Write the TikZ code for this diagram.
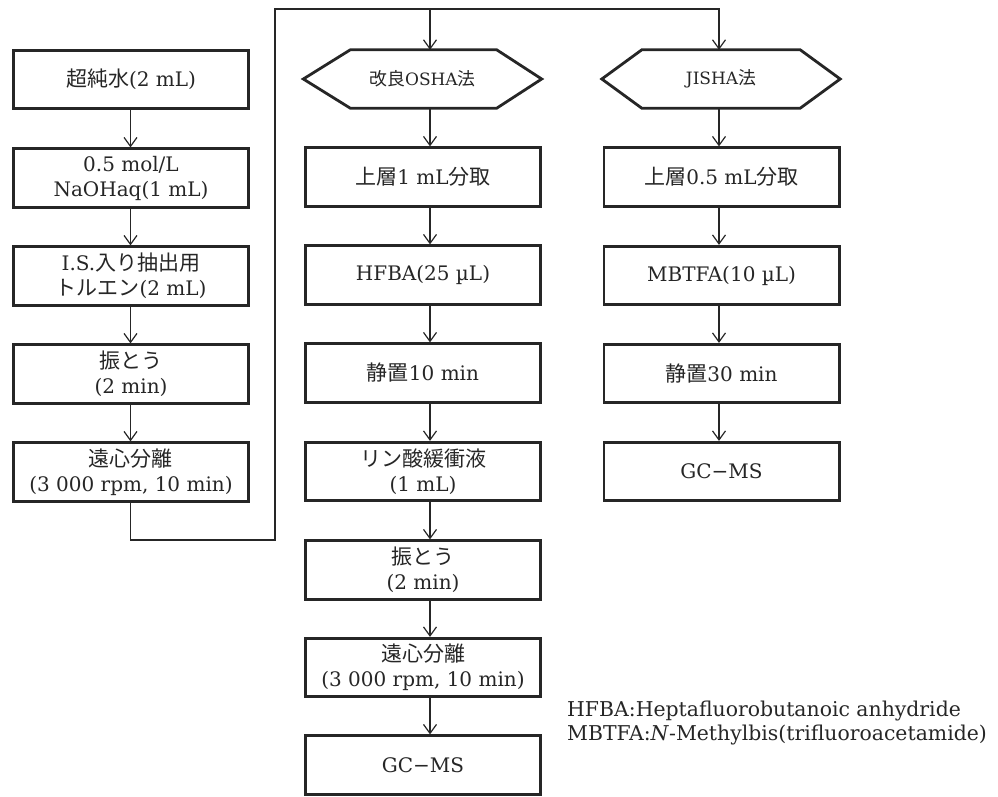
\documentclass[tikz,border=0pt]{standalone}
\usepackage{fontspec}
\setmainfont{DejaVu Serif}
\newfontfamily\jpfont[Scale=1.05]{Noto Sans CJK JP}
\newcommand\J[1]{{\jpfont #1}}
\usetikzlibrary{arrows.meta}
\definecolor{ink}{HTML}{262626}
\begin{document}
\begin{tikzpicture}[x=1pt,y=-1pt,
  box/.style={draw=ink, line width=2.8pt, minimum width=235.2pt, minimum height=58.4pt,
    inner sep=0pt, align=center, text=ink, font=\fontsize{20}{25}\selectfont},
  hexl/.style={minimum width=238pt, minimum height=58pt, inner sep=0pt, text=ink,
    font=\fontsize{17}{20}\selectfont},
  hexline/.style={draw=ink, line width=2.8pt, line join=miter},
  conn/.style={draw=ink, line width=1.2pt},
  arr/.style={conn, -{Straight Barb[length=9pt,width=13pt]}},
  note/.style={anchor=base west, inner sep=0pt, text=ink, font=\fontsize{20.4}{24}\selectfont}
]
\useasboundingbox (0,0) rectangle (998,796);

% left column
\node[box] (L1) at (131,79.5) {\J{超純水}(2 mL)};
\node[box] (L2) at (131,178) {0.5 mol/L\\NaOHaq(1 mL)};
\node[box] (L3) at (131,276) {I.S.\J{入り抽出用}\\\J{トルエン}(2 mL)};
\node[box] (L4) at (131,374) {\J{振とう}\\(2 min)};
\node[box] (L5) at (131,472) {\J{遠心分離}\\(3 000 rpm, 10 min)};

% middle column
\node[hexl] (MH) at (422.5,79) {\J{改良}OSHA\J{法}};
\draw[hexline] (MH.west) -- ([xshift=47pt]MH.north west) -- ([xshift=-45pt]MH.north east)
  -- (MH.east) -- ([xshift=-45pt]MH.south east) -- ([xshift=47pt]MH.south west) -- cycle;
\node[box] (M1) at (423,177) {\J{上層}1 mL\J{分取}};
\node[box] (M2) at (423,275) {HFBA(25 µL)};
\node[box] (M3) at (423,373) {\J{静置}10 min};
\node[box] (M4) at (423,471.5) {\J{リン酸緩衝液}\\(1 mL)};
\node[box] (M5) at (423,570) {\J{振とう}\\(2 min)};
\node[box] (M6) at (423,667.5) {\J{遠心分離}\\(3 000 rpm, 10 min)};
\node[box] (M7) at (423,765) {GC−MS};

% right column
\node[hexl] (RH) at (721,79) {JISHA\J{法}};
\draw[hexline] (RH.west) -- ([xshift=40pt]RH.north west) -- ([xshift=-40pt]RH.north east)
  -- (RH.east) -- ([xshift=-40pt]RH.south east) -- ([xshift=40pt]RH.south west) -- cycle;
\node[box] (R1) at (721.5,177) {\J{上層}0.5 mL\J{分取}};
\node[box] (R2) at (721.5,275.5) {MBTFA(10 µL)};
\node[box] (R3) at (721.5,373.5) {\J{静置}30 min};
\node[box] (R4) at (721.5,471.5) {GC−MS};

% column arrow lines
\coordinate (xl) at (130.5,0);
\coordinate (xm) at (430,0);
\coordinate (xr) at (719,0);

\foreach \a/\b in {L1/L2,L2/L3,L3/L4,L4/L5}
  \draw[arr] (\a.south -| xl) -- (\b.north -| xl);
\foreach \a/\b in {MH/M1,M1/M2,M2/M3,M3/M4,M4/M5,M5/M6,M6/M7}
  \draw[arr] (\a.south -| xm) -- (\b.north -| xm);
\foreach \a/\b in {RH/R1,R1/R2,R2/R3,R3/R4}
  \draw[arr] (\a.south -| xr) -- (\b.north -| xr);

% routing connector
\coordinate (c2) at (275,540);
\coordinate (c3) at (275,9);
\coordinate (c4) at (719,9);
\coordinate (c5) at (430,9);
\draw[arr] (L5.south -| xl) |- (c2) -- (c3) -- (c4) -- (RH.north -| c4);
\draw[arr] (c5) -- (MH.north -| c5);

% footnote
\node[note] (fn1) at (567,716) {HFBA:Heptafluorobutanoic anhydride};
\node[note] (fn2) at (567,740) {MBTFA:\textit{N}-Methylbis(trifluoroacetamide)};
\end{tikzpicture}
\end{document}
